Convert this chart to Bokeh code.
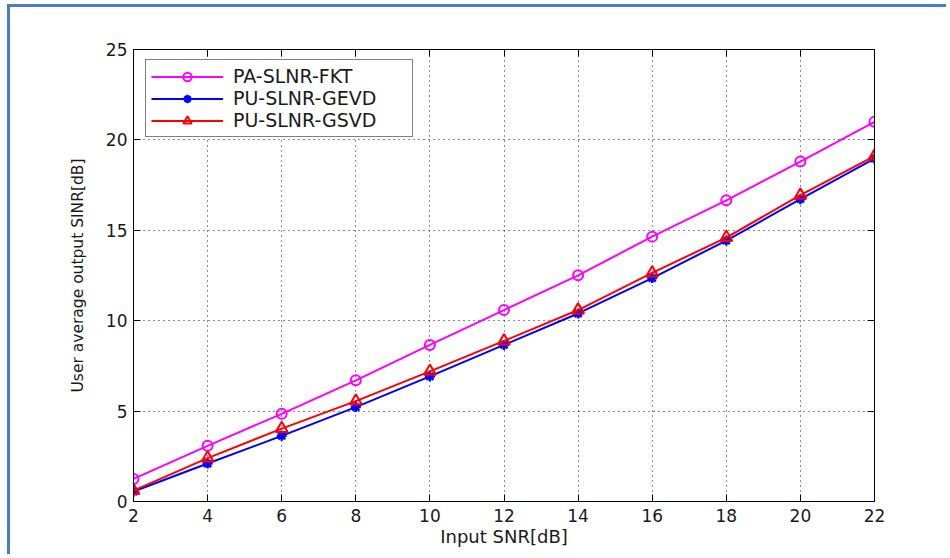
from bokeh.plotting import figure
from bokeh.models import Range1d, LinearAxis, FixedTicker, CustomJSTickFormatter, Legend, LegendItem
from bokeh.embed import file_html
from bokeh.resources import INLINE

# ---- data ----
snr_db = [2, 4, 6, 8, 10, 12, 14, 16, 18, 20, 22]
pa_slnr_fkt = [1.25, 3.08, 4.85, 6.70, 8.66, 10.59, 12.51, 14.65, 16.66, 18.80, 21.00]
pu_slnr_gevd = [0.55, 2.10, 3.63, 5.22, 6.92, 8.66, 10.40, 12.36, 14.43, 16.72, 18.96]
pu_slnr_gsvd = [0.60, 2.40, 4.03, 5.55, 7.20, 8.88, 10.59, 12.64, 14.60, 16.94, 19.10]
x_ticks = [2, 4, 6, 8, 10, 12, 14, 16, 18, 20, 22]
y_ticks = [0, 5, 10, 15, 20, 25]
series_names = ["PA-SLNR-FKT", "PU-SLNR-GEVD", "PU-SLNR-GSVD"]

FONT = "DejaVu Sans"

p = figure(width=939, height=550,
           x_range=Range1d(2, 22), y_range=Range1d(0, 25),
           output_backend="svg", toolbar_location=None,
           min_border_left=123, min_border_right=75,
           min_border_top=42, min_border_bottom=56,
           x_axis_label="Input SNR[dB]",
           y_axis_label="User average output SINR[dB]")
p.styles = {"border-top": "3px solid #4a7ebb", "border-left": "3px solid #4a7ebb",
            "margin-top": "4px", "margin-left": "7px"}

p.background_fill_color = "white"
p.border_fill_color = "white"
p.outline_line_color = "black"
p.outline_line_width = 1

for ax in (p.xaxis[0], p.yaxis[0]):
    ax.axis_line_color = "black"
    ax.major_tick_line_color = "black"
    ax.major_tick_in = 7
    ax.major_tick_out = 0
    ax.minor_tick_in = 0
    ax.minor_tick_out = 0
    ax.major_label_text_font = FONT
    ax.major_label_text_font_size = "17px"
    ax.major_label_text_color = "#1a1a1a"
    ax.axis_label_text_font = FONT
    ax.axis_label_text_font_style = "normal"
    ax.axis_label_text_color = "#1a1a1a"

p.xaxis[0].axis_label_text_font_size = "18px"
p.yaxis[0].axis_label_text_font_size = "15.5px"
p.xaxis[0].ticker = FixedTicker(ticks=x_ticks)
p.yaxis[0].ticker = FixedTicker(ticks=y_ticks)
p.xaxis[0].major_label_standoff = 7
p.xaxis[0].axis_label_standoff = 1
p.yaxis[0].major_label_standoff = 6
p.yaxis[0].axis_label_standoff = 16

blank = CustomJSTickFormatter(code="return ''")
top_ax = LinearAxis(ticker=FixedTicker(ticks=x_ticks), formatter=blank,
                    major_tick_in=7, major_tick_out=0, minor_tick_in=0, minor_tick_out=0,
                    axis_line_color="black", major_tick_line_color="black",
                    major_label_text_font_size="1px")
right_ax = LinearAxis(ticker=FixedTicker(ticks=y_ticks), formatter=blank,
                      major_tick_in=7, major_tick_out=0, minor_tick_in=0, minor_tick_out=0,
                      axis_line_color="black", major_tick_line_color="black",
                      major_label_text_font_size="1px")
p.add_layout(top_ax, "above")
p.add_layout(right_ax, "right")

for g in (p.xgrid[0], p.ygrid[0]):
    g.grid_line_color = "black"
    g.grid_line_dash = "1 4"
    g.grid_line_width = 1
    g.grid_line_alpha = 0.9
p.xgrid[0].ticker = FixedTicker(ticks=x_ticks)
p.ygrid[0].ticker = FixedTicker(ticks=y_ticks)

MAG, BLU, RED = "#ff00ff", "#0000ff", "#ff0000"

l1 = p.line(snr_db, pa_slnr_fkt, line_color=MAG, line_width=2)
m1 = p.scatter(snr_db, pa_slnr_fkt, marker="circle", size=10, line_color=MAG,
               fill_color=None, line_width=2)
l2 = p.line(snr_db, pu_slnr_gevd, line_color=BLU, line_width=2)
m2 = p.scatter(snr_db, pu_slnr_gevd, marker="asterisk", size=10, line_color=BLU,
               line_width=2.5)
l3 = p.line(snr_db, pu_slnr_gsvd, line_color=RED, line_width=2)
m3 = p.scatter(snr_db, pu_slnr_gsvd, marker="triangle", size=12, line_color=RED,
               fill_color=None, line_width=2)

legend = Legend(items=[
    LegendItem(label=series_names[0], renderers=[l1, m1]),
    LegendItem(label=series_names[1], renderers=[l2, m2]),
    LegendItem(label=series_names[2], renderers=[l3, m3]),
], location=(12, 364))
legend.margin = 0
legend.padding = 5
legend.spacing = 0
legend.glyph_width = 72
legend.glyph_height = 21
legend.label_height = 21
legend.label_width = 174
legend.label_standoff = 10
legend.label_text_font = FONT
legend.label_text_font_size = "19px"
legend.label_text_color = "#1a1a1a"
legend.border_line_color = "black"
legend.border_line_width = 1
legend.background_fill_color = "white"
legend.background_fill_alpha = 1.0
p.add_layout(legend)

open("out.html", "w").write(file_html(p, INLINE))
